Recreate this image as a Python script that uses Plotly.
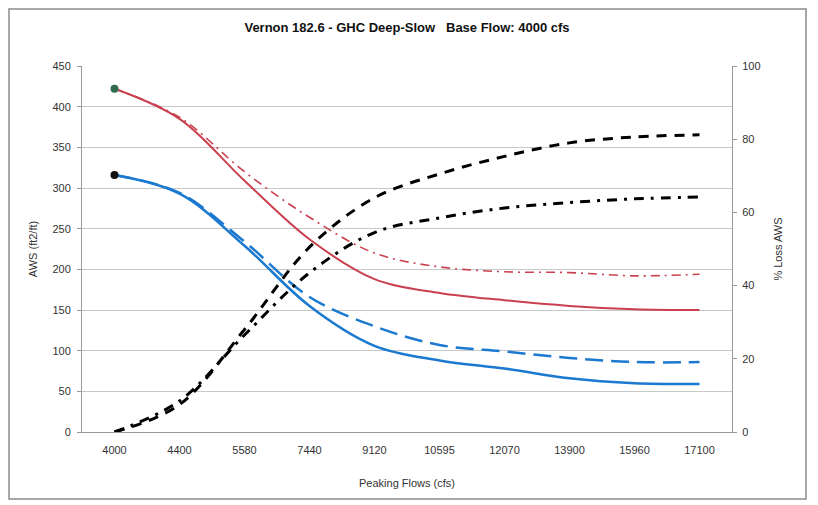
import plotly.graph_objects as go

categories = ["4000", "4400", "5580", "7440", "9120", "10595", "12070", "13900", "15960", "17100"]

aws_red_solid = [422, 385, 309, 237, 188, 171, 162, 155, 151, 150]
aws_red_dashdot = [422, 387, 320, 264, 220, 203, 197, 196, 192, 194]
aws_blue_solid = [316, 293, 229, 155, 106, 88, 78, 66, 60, 59]
aws_blue_dash = [316, 294, 234, 166, 130, 107, 99, 91, 86, 86]
loss_black_dash = [0, 7.5, 28, 50.5, 64, 70.5, 75.3, 79, 80.6, 81.2]
loss_black_dashdot = [0, 8.5, 26.5, 43.5, 54.5, 58.5, 61.2, 62.7, 63.7, 64.2]

y_left_ticks = list(range(0, 451, 50))
y_right_ticks = list(range(0, 101, 20))

RED = "#c9404f"
BLUE = "#1b79cf"
FONT = "Liberation Sans, Arial, sans-serif"

fig = go.Figure()

fig.add_trace(go.Scatter(x=categories, y=aws_red_dashdot, mode="lines",
                         line=dict(color=RED, width=1.6, dash="9px,5px,2px,5px", shape="spline"),
                         yaxis="y", showlegend=False))
fig.add_trace(go.Scatter(x=categories, y=aws_red_solid, mode="lines",
                         line=dict(color=RED, width=2, shape="spline"),
                         yaxis="y", showlegend=False))
fig.add_trace(go.Scatter(x=categories, y=aws_blue_dash, mode="lines",
                         line=dict(color=BLUE, width=2.5, dash="18px,8px", shape="spline"),
                         yaxis="y", showlegend=False))
fig.add_trace(go.Scatter(x=categories, y=aws_blue_solid, mode="lines",
                         line=dict(color=BLUE, width=2.5, shape="spline"),
                         yaxis="y", showlegend=False))
fig.add_trace(go.Scatter(x=categories, y=loss_black_dash, mode="lines",
                         line=dict(color="black", width=3, dash="10px,8px", shape="spline"),
                         yaxis="y2", showlegend=False))
fig.add_trace(go.Scatter(x=categories, y=loss_black_dashdot, mode="lines",
                         line=dict(color="black", width=3, dash="10px,7px,3px,7px", shape="spline"),
                         yaxis="y2", showlegend=False))
# start markers
fig.add_trace(go.Scatter(x=categories[:1], y=aws_red_solid[:1], mode="markers",
                         marker=dict(color="#2f6b4c", size=8), yaxis="y", showlegend=False))
fig.add_trace(go.Scatter(x=categories[:1], y=aws_blue_solid[:1], mode="markers",
                         marker=dict(color="#111111", size=8), yaxis="y", showlegend=False))

# page body has an 8px margin; figure coordinates are target pixels minus 8
OFF = 8
W, H = 818 - OFF, 505 - OFF
L, T = 82 - OFF, 66 - OFF
pw, ph = 650, 366
R, B = W - L - pw, H - T - ph

fig.add_shape(type="rect", xref="paper", yref="paper",
              x0=(1 - L) / pw, x1=(806 - OFF - L) / pw,
              y0=(T + ph - (499 - OFF)) / ph, y1=(T + ph - 1) / ph,
              line=dict(color="#8c8c8c", width=1.5), layer="below")

fig.update_layout(
    width=W, height=H,
    margin=dict(l=L, r=R, t=T, b=B),
    paper_bgcolor="white", plot_bgcolor="white",
    font=dict(family=FONT, size=11, color="#333333"),
    title=dict(text="<b>Vernon 182.6 - GHC Deep-Slow   Base Flow: 4000 cfs</b>",
               x=0.5, xref="paper", y=1 - (27 - OFF) / H, yanchor="middle",
               font=dict(family=FONT, size=13, color="#111111")),
    xaxis=dict(type="category", range=[-0.5, 9.5], showgrid=False,
               showline=True, linecolor="#9a9a9a", linewidth=1,
               ticks="", ticklabelstandoff=8, tickfont=dict(size=11, color="#333333"),
               title=dict(text="Peaking Flows (cfs)", standoff=24,
                          font=dict(size=11, color="#333333"))),
    yaxis=dict(range=[0, 450], tickvals=y_left_ticks, showgrid=True,
               gridcolor="#c8c8c8", gridwidth=1, zeroline=False,
               showline=True, linecolor="#9a9a9a", ticks="outside",
               ticklen=4, tickcolor="#9a9a9a", ticklabelstandoff=4,
               tickfont=dict(size=11, color="#333333"),
               title=dict(text="AWS (ft2/ft)", standoff=12,
                          font=dict(size=11, color="#333333"))),
    yaxis2=dict(range=[0, 100], tickvals=y_right_ticks, overlaying="y", side="right",
                showgrid=False, zeroline=False, showline=True, linecolor="#9a9a9a",
                ticks="outside", ticklen=4, tickcolor="#9a9a9a", ticklabelstandoff=3,
                tickfont=dict(size=11, color="#333333"),
                title=dict(text="% Loss AWS", standoff=14,
                           font=dict(size=11, color="#333333"))),
)

fig.write_html("out.html")
